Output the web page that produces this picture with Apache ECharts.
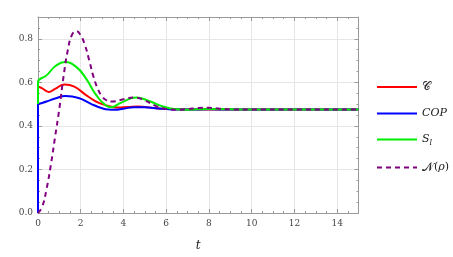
<!DOCTYPE html>
<html><head><meta charset="utf-8">
<script src="https://cdn.jsdelivr.net/npm/echarts@6/dist/echarts.min.js"></script>
<style>html,body{margin:0;padding:0;background:#fff}#c{width:453px;height:257px}</style>
</head><body><div id="c"></div>
<script>
const xTicks = [0, 2, 4, 6, 8, 10, 12, 14];
const yTicks = [0.0, 0.2, 0.4, 0.6, 0.8];
const seriesNames = ['C', 'COP', 'S_l', 'N(rho)'];

const tC = [0, 0.05, 0.2, 0.5, 0.8, 1.25, 1.7, 2.2, 2.7, 3.2, 3.7, 4.2, 4.7, 5.2, 6.0, 7, 8, 10, 15];
const vC = [0.565, 0.578, 0.572, 0.556, 0.57, 0.59, 0.58, 0.545, 0.513, 0.494, 0.485, 0.487, 0.489, 0.485, 0.477, 0.475, 0.476, 0.475, 0.475];

const tCOP = [0, 0, 0.1, 0.4, 0.8, 1.3, 1.9, 2.5, 3.0, 3.3, 3.6, 4.0, 4.5, 5.0, 5.5, 6.0, 6.5, 7, 8, 9, 10, 12, 15];
const vCOP = [0, 0.5, 0.503, 0.512, 0.526, 0.537, 0.528, 0.5, 0.481, 0.475, 0.474, 0.479, 0.486, 0.486, 0.481, 0.477, 0.475, 0.475, 0.476, 0.475, 0.475, 0.475, 0.475];

const tS = [0, 0, 0.4, 0.85, 1.25, 1.8, 2.25, 2.7, 3.1, 3.4, 3.9, 4.6, 5.2, 5.7, 6.2, 7, 8, 10, 15];
const vS = [0.5, 0.6, 0.632, 0.677, 0.693, 0.67, 0.617, 0.545, 0.5, 0.486, 0.507, 0.53, 0.514, 0.494, 0.48, 0.474, 0.478, 0.475, 0.475];

const tN = [0, 0.2, 0.4, 0.6, 0.8, 1.0, 1.2, 1.4, 1.6, 1.8, 2.0, 2.2, 2.4, 2.6, 2.8, 3.0, 3.2, 3.5, 4.0, 4.5, 5.0, 5.5, 6.0, 6.5, 7.0, 7.5, 8.0, 8.5, 9, 10, 12, 15];
const vN = [0.0, 0.03, 0.11, 0.22, 0.35, 0.48, 0.63, 0.75, 0.82, 0.835, 0.815, 0.77, 0.70, 0.625, 0.57, 0.535, 0.518, 0.512, 0.522, 0.53, 0.517, 0.492, 0.478, 0.474, 0.477, 0.482, 0.483, 0.479, 0.476, 0.475, 0.475, 0.475];

const zip = (t, v) => t.map((x, i) => [x, v[i]]);
const serif = '"DejaVu Serif", "Liberation Serif", serif';
const axisColor = '#9a9a9a';
const gridColor = '#e6e6e6';

const chart = echarts.init(document.getElementById('c'), null, {renderer: 'canvas'});
const baseX = {
  type: 'value', min: 0, max: 15, interval: 2,
  axisLine: {show: true, onZero: false, lineStyle: {color: axisColor, width: 1}},
  axisTick: {show: true, inside: true, length: 4, lineStyle: {color: axisColor}},
  minorTick: {show: true, splitNumber: 4, length: 2, lineStyle: {color: axisColor}}
};
const baseY = {
  type: 'value', min: 0, max: 0.9, interval: 0.2,
  axisLine: {show: true, onZero: false, lineStyle: {color: axisColor, width: 1}},
  axisTick: {show: true, inside: true, length: 4, lineStyle: {color: axisColor}},
  minorTick: {show: true, splitNumber: 4, length: 2, lineStyle: {color: axisColor}}
};
const legendLabels = {
  'C': '{s|𝒞}',
  'COP': '{i|COP}',
  'S_l': '{i|S}{sub|l}',
  'N(rho)': '{s|𝒩}{n|(}{i|ρ}{n|)}'
};
const mk = (name, data, color, dashed) => ({
  name, type: 'line', data, smooth: 0.5, symbol: 'none',
  lineStyle: {color, width: 2, type: dashed ? [5, 4] : 'solid'},
  itemStyle: {color}, z: 3
});
chart.setOption({
  animation: false,
  backgroundColor: '#fff',
  grid: {left: 38, top: 17, right: 94.5, bottom: 40, containLabel: false},
  xAxis: [
    Object.assign({}, baseX, {
      position: 'bottom',
      axisLabel: {show: true, margin: 6, fontFamily: serif, fontSize: 9, color: '#444',
        formatter: v => xTicks.includes(v) ? String(v) : ''},
      splitLine: {show: true, lineStyle: {color: gridColor, width: 1}},
      name: 't', nameLocation: 'middle', nameGap: 27,
      nameTextStyle: {fontFamily: serif, fontStyle: 'italic', fontSize: 12, color: '#222'}
    }),
    Object.assign({}, baseX, {position: 'top', axisLabel: {show: false}, splitLine: {show: false}})
  ],
  yAxis: [
    Object.assign({}, baseY, {
      position: 'left',
      axisLabel: {show: true, margin: 5, fontFamily: serif, fontSize: 9, color: '#444',
        formatter: v => yTicks.some(y => Math.abs(y - v) < 1e-9) ? v.toFixed(1) : ''},
      splitLine: {show: true, lineStyle: {color: gridColor, width: 1}}
    }),
    Object.assign({}, baseY, {position: 'right', axisLabel: {show: false}, splitLine: {show: false}})
  ],
  legend: {
    orient: 'vertical', left: 371, top: 76, itemWidth: 40, itemHeight: 10, itemGap: 15,
    data: seriesNames,
    itemStyle: {opacity: 0},
    formatter: n => legendLabels[n],
    textStyle: {
      fontFamily: serif, fontSize: 12, color: '#222',
      rich: {
        s: {fontFamily: '"DejaVu Sans", serif', fontSize: 12, color: '#222'},
        i: {fontFamily: serif, fontStyle: 'italic', fontSize: 11, color: '#222'},
        n: {fontFamily: serif, fontSize: 11, color: '#222'},
        sub: {fontFamily: serif, fontStyle: 'italic', fontSize: 8, color: '#222', verticalAlign: 'bottom', padding: [6, 0, 0, 0]}
      }
    }
  },
  series: [
    mk('C', zip(tC, vC), '#ff0000', false),
    mk('COP', zip(tCOP, vCOP), '#0000ff', false),
    mk('S_l', zip(tS, vS), '#00ee00', false),
    mk('N(rho)', zip(tN, vN), '#800080', true)
  ]
});
</script></body></html>
